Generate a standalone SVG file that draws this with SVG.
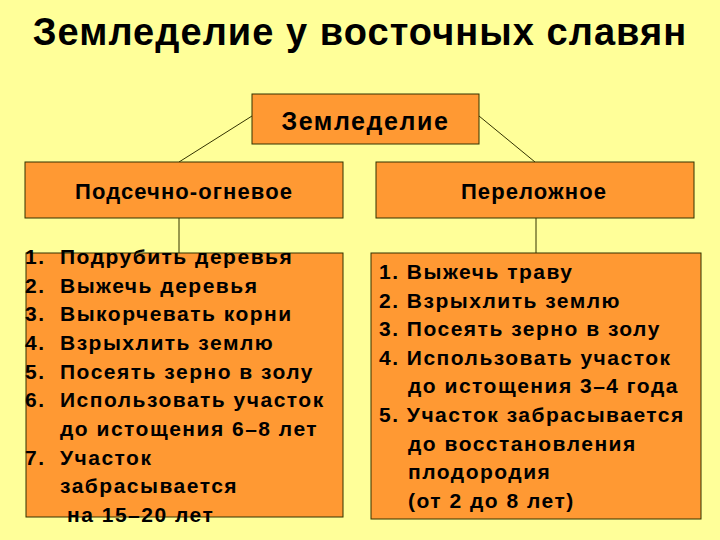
<svg xmlns="http://www.w3.org/2000/svg" width="720" height="540" viewBox="0 0 720 540">
<style>
.box{fill:#FF9933;stroke:#333300;stroke-width:1}
.ln{stroke:#333300;stroke-width:1;fill:none}
text{font-family:"Liberation Sans",Arial,sans-serif;font-weight:bold;fill:#000}
.t{font-size:21px;letter-spacing:1.5px}
.h{font-size:22px;letter-spacing:1.1px;text-anchor:middle}
</style>
<rect width="720" height="540" fill="#FFFF99"/>
<text x="360" y="45" font-size="38" letter-spacing="1.05" text-anchor="middle">Земледелие у восточных славян</text>
<g id="connectors">
<line class="ln" x1="252" y1="116" x2="179" y2="162"/>
<line class="ln" x1="479" y1="116" x2="535" y2="162"/>
<line class="ln" x1="179" y1="218" x2="179" y2="253"/>
<line class="ln" x1="536" y1="218" x2="536" y2="253"/>
</g>
<g id="root">
<rect class="box" x="252" y="94" width="227" height="50"/>
<text x="365.5" y="130" font-size="25" letter-spacing="1.6" text-anchor="middle">Земледелие</text>
</g>
<g id="slash">
<rect class="box" x="25" y="162" width="318" height="56"/>
<text class="h" x="184" y="199">Подсечно-огневое</text>
</g>
<g id="fallow">
<rect class="box" x="376" y="162" width="318" height="56"/>
<text class="h" x="534" y="199">Переложное</text>
</g>
<g id="slash-steps">
<rect class="box" x="26" y="253" width="317" height="264"/>
<g class="t">
<text x="25" y="264">1.</text><text x="60" y="264">Подрубить деревья</text>
<text x="25" y="293">2.</text><text x="60" y="293">Выжечь деревья</text>
<text x="25" y="321">3.</text><text x="60" y="321">Выкорчевать корни</text>
<text x="25" y="350">4.</text><text x="60" y="350">Взрыхлить землю</text>
<text x="25" y="379">5.</text><text x="60" y="379">Посеять зерно в золу</text>
<text x="25" y="407">6.</text><text x="60" y="407">Использовать участок</text>
<text x="60" y="436">до истощения 6–8 лет</text>
<text x="25" y="465">7.</text><text x="60" y="465">Участок</text>
<text x="60" y="493">забрасывается</text>
<text x="67" y="522">на 15–20 лет</text>
</g>
</g>
<g id="fallow-steps">
<rect class="box" x="371" y="253" width="330" height="266"/>
<g class="t">
<text x="379" y="279">1. Выжечь траву</text>
<text x="379" y="308">2. Взрыхлить землю</text>
<text x="379" y="336">3. Посеять зерно в золу</text>
<text x="379" y="365">4. Использовать участок</text>
<text x="408" y="393">до истощения 3–4 года</text>
<text x="379" y="422">5. Участок забрасывается</text>
<text x="408" y="451">до восстановления</text>
<text x="408" y="479">плодородия</text>
<text x="408" y="508">(от 2 до 8 лет)</text>
</g>
</g>
</svg>
